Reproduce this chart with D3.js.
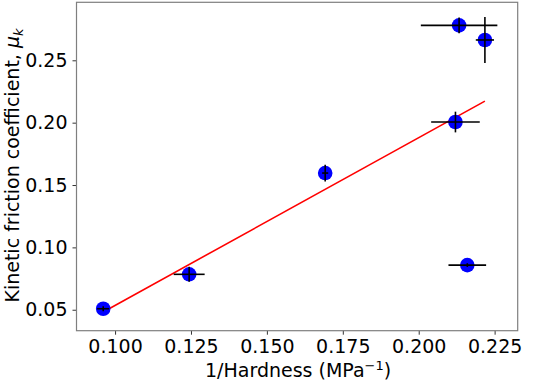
<!DOCTYPE html>
<html><head><meta charset="utf-8">
<script src="https://cdn.jsdelivr.net/npm/d3@7"></script>
<style>body{margin:0;background:#fff}svg{display:block}text{font-family:"DejaVu Sans",sans-serif;fill:#000}</style>
</head><body>
<svg id="c" width="533" height="383"></svg>
<script>
const xVals = [0.0961, 0.1244, 0.1692, 0.2121, 0.2133, 0.2218, 0.2160];
const yVals = [0.0508, 0.0784, 0.1596, 0.2005, 0.2780, 0.2663, 0.0858];
const xErr  = [0.0020, 0.0051, 0.0010, 0.0080, 0.0126, 0.0030, 0.0062];
const yErr  = [0.0020, 0.0060, 0.0067, 0.0083, 0.0064, 0.0184, 0.0015];
const fitX = [0.0961, 0.2218];
const fitY = [0.0482, 0.2173];
const xTicks = [0.100, 0.125, 0.150, 0.175, 0.200, 0.225];
const yTicks = [0.05, 0.10, 0.15, 0.20, 0.25];

const svg = d3.select("#c");
const L = 76.5, R = 517.7, T = 2.3, B = 330.7;
const x = d3.scaleLinear().domain([0.0873, 0.2326]).range([L, R]);
const y = d3.scaleLinear().domain([0.0332, 0.2965]).range([B, T]);
const fs = 19;

const xa = svg.append("g").attr("transform", `translate(0,${B})`)
  .call(d3.axisBottom(x).tickValues(xTicks).tickFormat(d3.format(".3f")).tickSize(4).tickPadding(5));
const ya = svg.append("g").attr("transform", `translate(${L},0)`)
  .call(d3.axisLeft(y).tickValues(yTicks).tickFormat(d3.format(".2f")).tickSize(4).tickPadding(5));
[xa, ya].forEach(a => {
  a.select(".domain").remove();
  a.selectAll(".tick line").attr("stroke", "#333").attr("stroke-width", 1);
  a.selectAll("text").style("font-size", fs + "px").attr("fill", "#000");
});

svg.append("rect").attr("x", L).attr("y", T).attr("width", R - L).attr("height", B - T)
  .attr("fill", "none").attr("stroke", "#7f7f7f").attr("stroke-width", 1.2);

const data = xVals.map((v, i) => ({x: v, y: yVals[i], xe: xErr[i], ye: yErr[i]}));

// fit line
svg.append("line").attr("x1", x(fitX[0])).attr("y1", y(fitY[0]))
  .attr("x2", x(fitX[1])).attr("y2", y(fitY[1]))
  .attr("stroke", "#ff0000").attr("stroke-width", 1.6);

// markers
svg.append("g").selectAll("circle").data(data).join("circle")
  .attr("cx", d => x(d.x)).attr("cy", d => y(d.y)).attr("r", 7.3).attr("fill", "#0000ff");

// error bars
const eb = svg.append("g").attr("stroke", "#000").attr("stroke-width", 1.6);
eb.selectAll("line.h").data(data).join("line").attr("class", "h")
  .attr("x1", d => x(d.x - d.xe)).attr("x2", d => x(d.x + d.xe))
  .attr("y1", d => y(d.y)).attr("y2", d => y(d.y));
eb.selectAll("line.v").data(data).join("line").attr("class", "v")
  .attr("x1", d => x(d.x)).attr("x2", d => x(d.x))
  .attr("y1", d => y(d.y - d.ye)).attr("y2", d => y(d.y + d.ye));

// x label
const xl = svg.append("text").attr("x", (L + R) / 2 + 1).attr("y", 377).attr("text-anchor", "middle")
  .style("font-size", fs + "px");
xl.append("tspan").text("1/Hardness (MPa");
xl.append("tspan").attr("dy", -7).style("font-size", "13px").text("−1");
xl.append("tspan").attr("dy", 7).text(")");

// y label
const yl = svg.append("text").attr("transform", `translate(19,${(T + B) / 2 - 1}) rotate(-90)`)
  .attr("text-anchor", "middle").style("font-size", fs + "px");
yl.append("tspan").text("Kinetic friction coefficient, ");
yl.append("tspan").style("font-style", "italic").text("μ");
yl.append("tspan").attr("dy", 4).style("font-style", "italic").style("font-size", "13px").text("k");
</script>
</body></html>
